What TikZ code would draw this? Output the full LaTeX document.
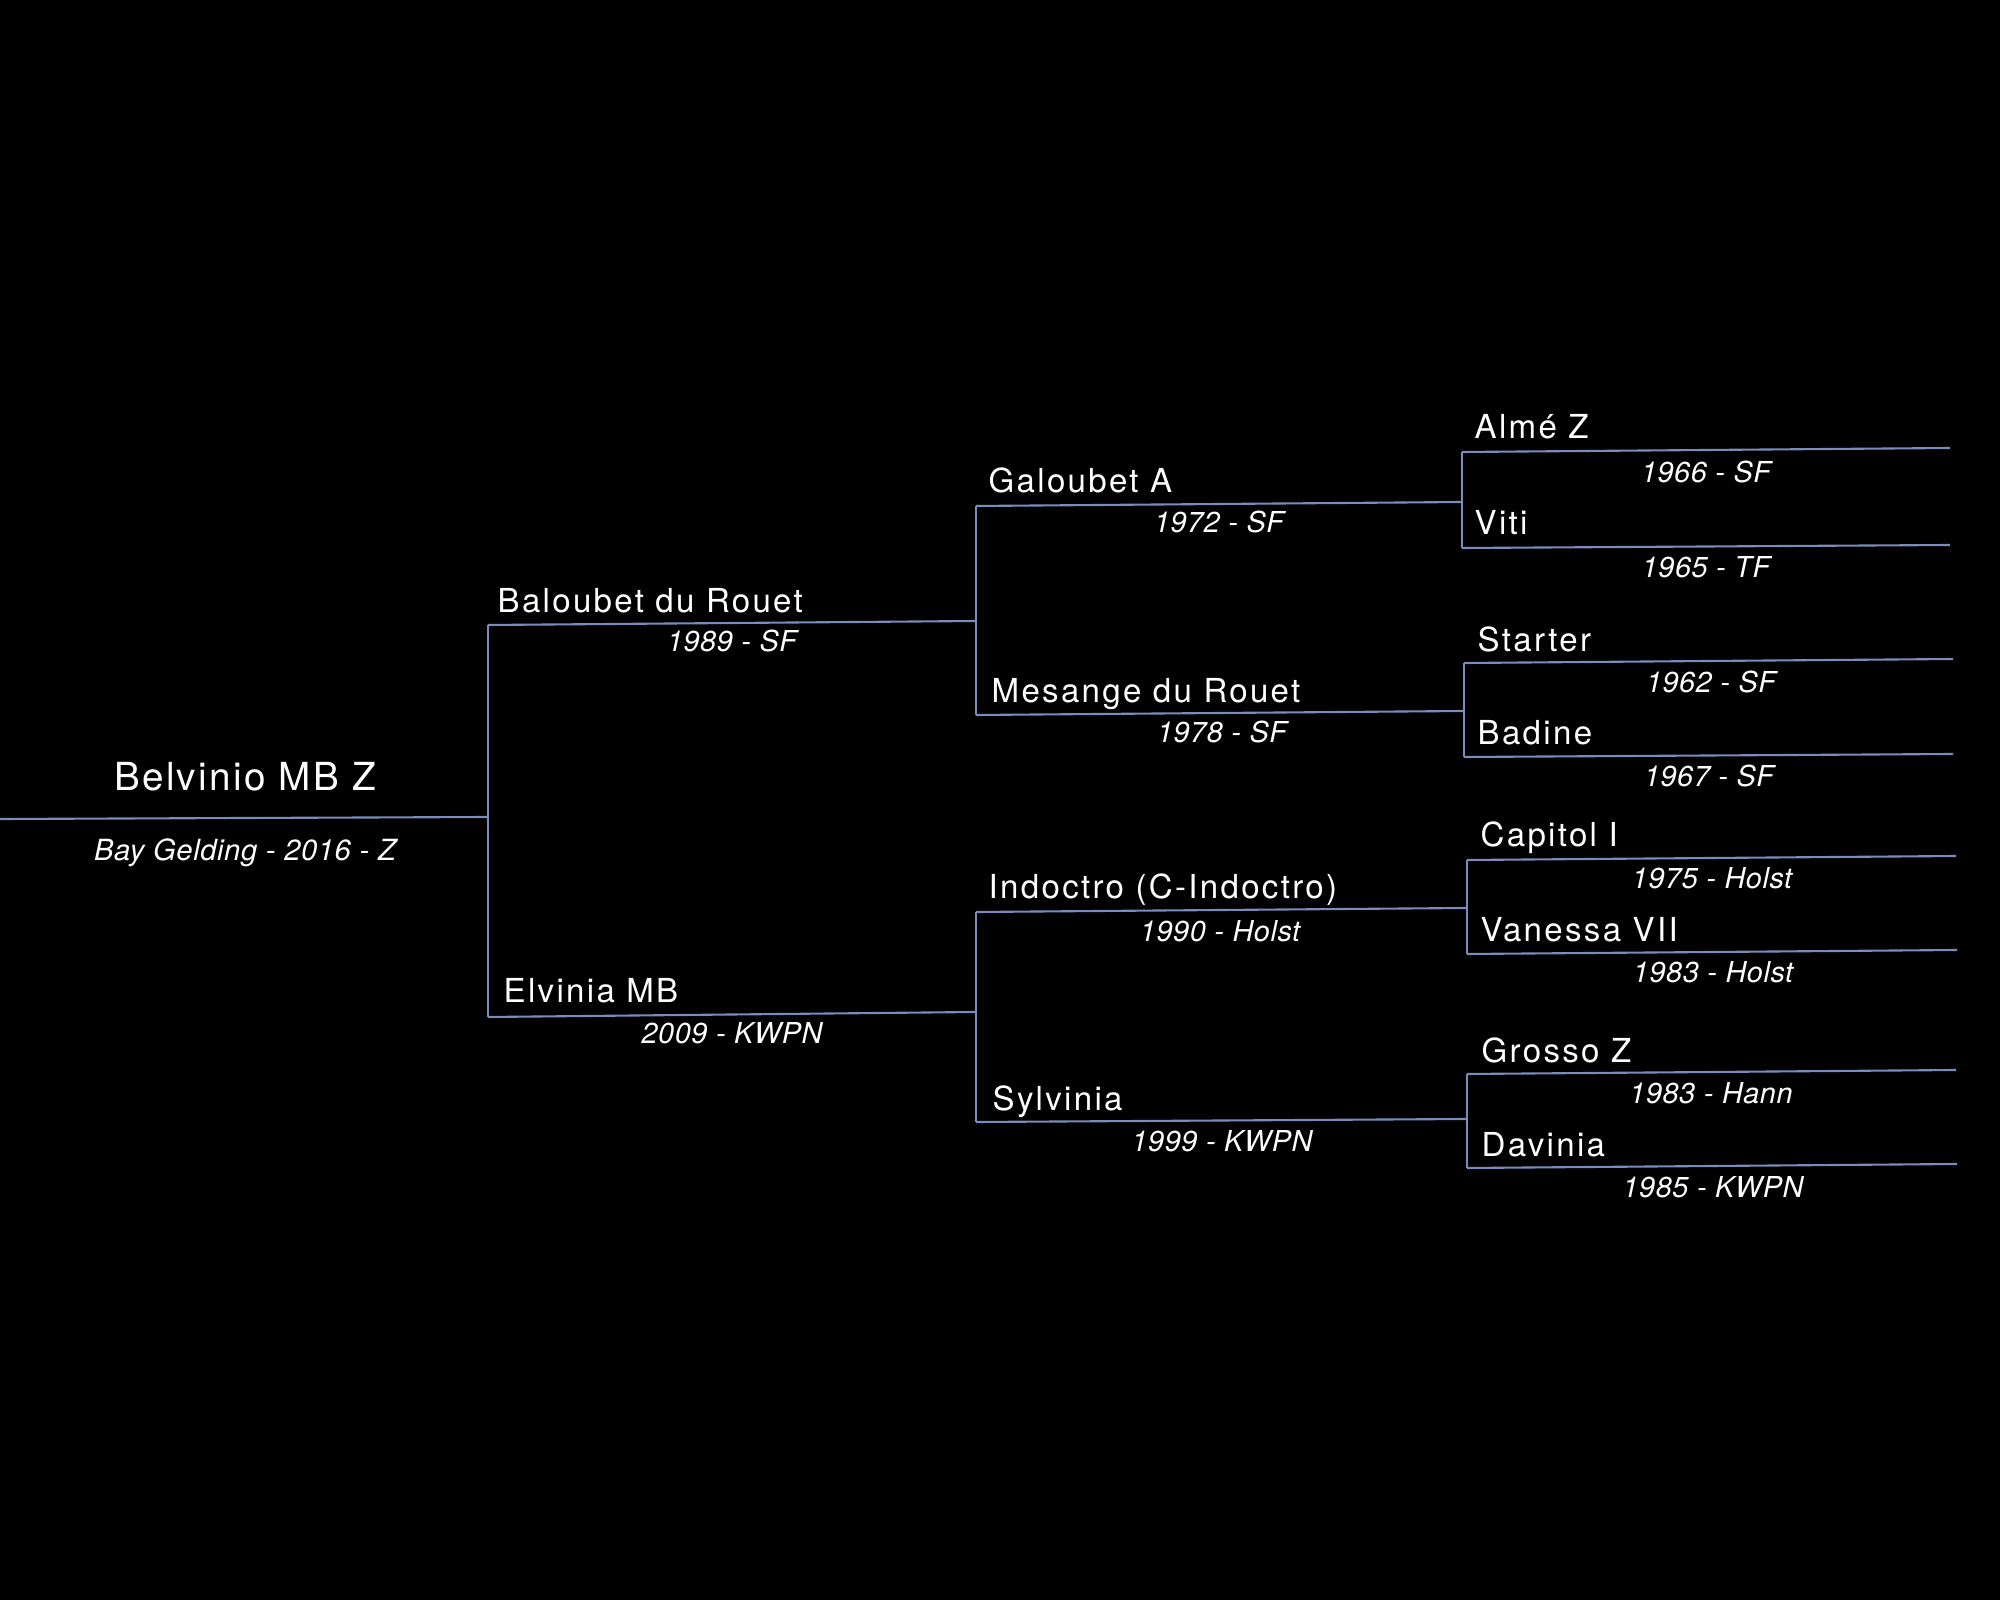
\documentclass[tikz,border=0pt]{standalone}
\usepackage{fontspec}
\setmainfont{TeX Gyre Heros}
\newfontfamily\rootfont[LetterSpace=6]{TeX Gyre Heros}
\newfontfamily\namefont[LetterSpace=7]{TeX Gyre Heros}
\newfontfamily\datefont[LetterSpace=2]{TeX Gyre Heros}
\usepackage{xcolor}
\usepackage{tikz}
\definecolor{pedblue}{RGB}{122,140,188}

\begin{document}
\begin{tikzpicture}[
    pedline/.style={draw=pedblue, line width=0.6pt},
    horsename/.style={anchor=base west, inner sep=0pt, text=white,
                      font=\namefont\fontsize{9.4pt}{11pt}\selectfont},
    horsedate/.style={anchor=base, inner sep=0pt, text=white,
                      font=\datefont\itshape\fontsize{8.2pt}{9pt}\selectfont},
    rootname/.style={anchor=base, inner sep=0pt, text=white,
                     font=\rootfont\fontsize{11pt}{13pt}\selectfont},
    rootdate/.style={anchor=base, inner sep=0pt, text=white,
                     font=\datefont\itshape\fontsize{8.3pt}{10pt}\selectfont}
]
    \useasboundingbox (0,0) rectangle (20,-16);
    \fill[black] (0,0) rectangle (20,-16);

    % line ends
    \coordinate (root-l)     at (0,-8.19);     \coordinate (root-r)     at (4.88,-8.17);
    \coordinate (baloubet-l) at (4.88,-6.25);  \coordinate (baloubet-r) at (9.76,-6.21);
    \coordinate (elvinia-l)  at (4.88,-10.17); \coordinate (elvinia-r)  at (9.75,-10.12);
    \coordinate (galoubet-l) at (9.76,-5.06);  \coordinate (galoubet-r) at (14.62,-5.02);
    \coordinate (mesange-l)  at (9.76,-7.15);  \coordinate (mesange-r)  at (14.63,-7.11);
    \coordinate (indoctro-l) at (9.76,-9.12);  \coordinate (indoctro-r) at (14.66,-9.08);
    \coordinate (sylvinia-l) at (9.76,-11.22); \coordinate (sylvinia-r) at (14.66,-11.19);
    \coordinate (alme-l)     at (14.62,-4.52); \coordinate (alme-r)     at (19.50,-4.48);
    \coordinate (viti-l)     at (14.62,-5.48); \coordinate (viti-r)     at (19.50,-5.45);
    \coordinate (starter-l)  at (14.64,-6.63); \coordinate (starter-r)  at (19.53,-6.59);
    \coordinate (badine-l)   at (14.64,-7.57); \coordinate (badine-r)   at (19.53,-7.54);
    \coordinate (capitol-l)  at (14.67,-8.60); \coordinate (capitol-r)  at (19.56,-8.56);
    \coordinate (vanessa-l)  at (14.67,-9.54); \coordinate (vanessa-r)  at (19.57,-9.50);
    \coordinate (grosso-l)   at (14.67,-10.74);\coordinate (grosso-r)   at (19.56,-10.70);
    \coordinate (davinia-l)  at (14.67,-11.68);\coordinate (davinia-r)  at (19.57,-11.64);

    % horses
    \node[rootname]  (root)     at (2.45,-7.91)  {Belvinio MB Z};
    \node[rootdate]  (rootd)    at (2.45,-8.61)  {Bay Gelding - 2016 - Z};
    \node[horsename] (baloubet) at (4.97,-6.13)  {Baloubet du Rouet};
    \node[horsedate] (baloubetd) at (7.32,-6.52) {1989 - SF};
    \node[horsename] (elvinia)  at (5.03,-10.03) {Elvinia MB};
    \node[horsedate] (elviniad) at (7.32,-10.43) {2009 - KWPN};
    \node[horsename] (galoubet) at (9.88,-4.93)  {Galoubet A};
    \node[horsedate] (galoubetd) at (12.19,-5.33) {1972 - SF};
    \node[horsename] (mesange)  at (9.91,-7.03)  {Mesange du Rouet};
    \node[horsedate] (mesanged) at (12.22,-7.43) {1978 - SF};
    \node[horsename] (indoctro) at (9.88,-8.99)  {Indoctro (C-Indoctro)};
    \node[horsedate] (indoctrod) at (12.20,-9.41) {1990 - Holst};
    \node[horsename] (sylvinia) at (9.92,-11.10) {Sylvinia};
    \node[horsedate] (sylviniad) at (12.22,-11.51) {1999 - KWPN};
    \node[horsename] (alme)     at (14.74,-4.39) {Almé Z};
    \node[horsedate] (almed)    at (17.06,-4.83) {1966 - SF};
    \node[horsename] (viti)     at (14.74,-5.35) {Viti};
    \node[horsedate] (vitid)    at (17.06,-5.78) {1965 - TF};
    \node[horsename] (starter)  at (14.77,-6.52) {Starter};
    \node[horsedate] (starterd) at (17.11,-6.93) {1962 - SF};
    \node[horsename] (badine)   at (14.77,-7.45) {Badine};
    \node[horsedate] (badined)  at (17.09,-7.87) {1967 - SF};
    \node[horsename] (capitol)  at (14.80,-8.47) {Capitol I};
    \node[horsedate] (capitold) at (17.12,-8.89) {1975 - Holst};
    \node[horsename] (vanessa)  at (14.80,-9.42) {Vanessa VII};
    \node[horsedate] (vanessad) at (17.13,-9.83) {1983 - Holst};
    \node[horsename] (grosso)   at (14.81,-10.62) {Grosso Z};
    \node[horsedate] (grossod)  at (17.11,-11.03) {1983 - Hann};
    \node[horsename] (davinia)  at (14.81,-11.56) {Davinia};
    \node[horsedate] (daviniad) at (17.13,-11.97) {1985 - KWPN};

    % rules under the names
    \foreach \h in {root,baloubet,elvinia,galoubet,mesange,indoctro,sylvinia,
                    alme,viti,starter,badine,capitol,vanessa,grosso,davinia}
        \draw[pedline] (\h-l) -- (\h-r);

    % brackets sire / dam
    \draw[pedline] (baloubet-l) -- (elvinia-l);
    \draw[pedline] (galoubet-l) -- (mesange-l);
    \draw[pedline] (indoctro-l) -- (sylvinia-l);
    \draw[pedline] (alme-l)     -- (viti-l);
    \draw[pedline] (starter-l)  -- (badine-l);
    \draw[pedline] (capitol-l)  -- (vanessa-l);
    \draw[pedline] (grosso-l)   -- (davinia-l);

\end{tikzpicture}
\end{document}
